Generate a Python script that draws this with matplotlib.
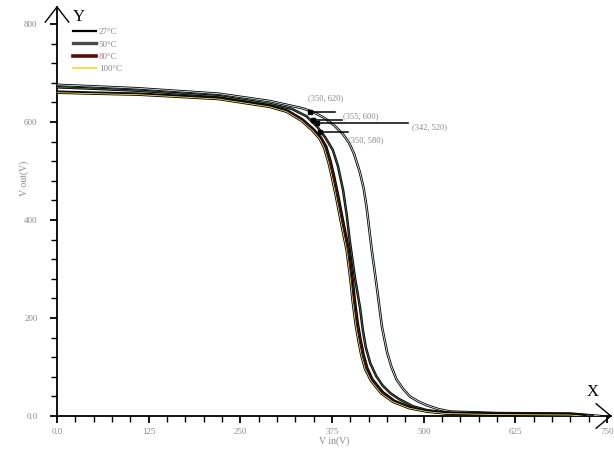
import numpy as np
import matplotlib
matplotlib.use("Agg")
import matplotlib.pyplot as plt
import matplotlib.patheffects as pe
from matplotlib.lines import Line2D

# transfer curves (Vin in mV, Vout in mV)
vin_27 = [0, 50, 110, 160, 220, 290, 335, 350, 365, 378, 390, 398, 405, 413, 418, 422, 429, 436,
          443, 450, 456, 463, 472, 481, 492, 504, 520, 536, 600, 700, 740]
vout_27 = [676, 673, 669, 664, 658, 643, 628, 620, 608, 593, 575, 558, 535, 497, 465, 427, 340, 263,
           182, 130, 100, 74, 55, 40, 30, 22, 14, 9, 6, 5, 0]

vin_50 = [0, 50, 110, 160, 220, 290, 320, 340, 355, 366, 376, 383, 390, 395, 399, 406, 413, 417,
          421, 427, 435, 444, 455, 467, 485, 504, 530, 600, 700, 730]
vout_50 = [671, 668, 664, 659, 653, 637, 627, 612, 590, 568, 543, 510, 461, 410, 359, 284, 222, 175,
           140, 108, 82, 62, 46, 34, 20, 12, 7, 5, 4, 0]

vin_80 = [0, 50, 110, 160, 220, 290, 315, 335, 350, 360, 367, 373, 378, 384, 389, 398, 403, 406,
          410, 414, 418, 423, 430, 444, 460, 481, 504, 530, 600, 700, 720]
vout_80 = [662, 660, 658, 654, 649, 633, 623, 605, 585, 568, 550, 520, 488, 445, 406, 339, 280, 237,
           190, 155, 125, 98, 75, 49, 31, 18, 10, 6, 4, 3, 0]

vin_100 = [0, 50, 110, 160, 220, 290, 313, 333, 348, 358, 364, 370, 375, 381, 386, 395, 400, 403,
           407, 411, 415, 420, 428, 442, 458, 480, 504, 530, 600, 700, 715]
vout_100 = [660, 658, 656, 652, 647, 631, 621, 603, 583, 566, 548, 518, 486, 443, 404, 337, 278, 235,
            188, 153, 123, 96, 72, 46, 29, 16, 9, 5, 3, 2, 0]

temps = ["27°C", "50°C", "80°C", "100°C"]

# marked points: position on the curve, end of leader, label position, label text
ann_x = [345, 349, 354, 358]
ann_y = [620, 604, 598, 580]
ann_end = [379, 388, 478, 397]
ann_tx = [342, 390, 484, 397]
ann_ty = [649, 612, 590, 563]
ann_text = ["(350, 620)", "(355, 600)", "(342, 520)", "(350, 580)"]

x_ticks = [0, 125, 250, 375, 500, 625, 750]
x_labels = ["0.0", "125", "250", "375", "500", "625", "750"]
y_ticks = [0, 200, 400, 600, 800]
y_labels = ["0.0", "200", "400", "600", "800"]

plt.rcParams["font.family"] = ["Liberation Serif", "DejaVu Serif"]
gray = "#8a8a8a"

fig = plt.figure(figsize=(6.14, 4.53), dpi=100)
ax = fig.add_axes([57 / 614, 37 / 453, 0.902, 0.903])
ax.set_xlim(0, 755)
ax.set_ylim(0, 835)

curves = [(vin_27, vout_27, "#d6eaee"), (vin_50, vout_50, "#3f6a48"),
          (vin_80, vout_80, "#6b1010"), (vin_100, vout_100, "#f2e35a")]
for (x, y, c) in curves:
    ax.plot(x, y, color=c, lw=0.6, zorder=3,
            path_effects=[pe.Stroke(linewidth=1.8, foreground="black"), pe.Normal()])

for i in range(len(ann_x)):
    ax.plot([ann_x[i], ann_end[i]], [ann_y[i], ann_y[i]], color="black", lw=1.1, zorder=4)
    ax.plot(ann_x[i], ann_y[i], "s", color="black", ms=3, zorder=5)
    ax.text(ann_tx[i], ann_ty[i], ann_text[i], fontsize=6, color=gray, va="center")

# axes with open arrow heads
for s in ["top", "right"]:
    ax.spines[s].set_visible(False)
ax.spines["left"].set_linewidth(1.3)
ax.spines["bottom"].set_linewidth(1.3)
ax.plot([-16, 0, 16], [804, 835, 804], color="black", lw=1.0, clip_on=False)
ax.plot([735, 755, 735], [25, 0, -25], color="black", lw=1.0, clip_on=False)
ax.text(22, 814, "Y", fontsize=12, va="center", ha="left")
ax.text(730, 48, "X", fontsize=12, va="center", ha="center")

ax.set_xticks(x_ticks)
ax.set_xticklabels(x_labels)
ax.set_yticks(y_ticks)
ax.set_yticklabels(y_labels)
ax.set_xticks(np.arange(0, 751, 25), minor=True)
ax.set_yticks(np.arange(0, 801, 40), minor=True)
ax.tick_params(which="both", direction="out", labelsize=6.5, labelcolor=gray)
ax.tick_params(which="major", length=5, width=1.3)
ax.tick_params(which="minor", length=4, width=1.0)
ax.tick_params(axis="y", pad=9)
ax.tick_params(axis="x", pad=4)

ax.set_xlabel("V in(V)", fontsize=7, color=gray, labelpad=0)
ax.set_ylabel("V out(V)", fontsize=7, color=gray, labelpad=2)
ax.yaxis.set_label_coords(-0.05, 0.58)

handles = [Line2D([], [], color="black", lw=1.6),
           Line2D([], [], color="#4a4a4a", lw=2.4),
           Line2D([], [], color="#5a0a0a", lw=2.6),
           Line2D([], [], color="#f0e050", lw=1.4)]
ax.legend(handles, temps, loc="upper left", bbox_to_anchor=(0.02, 0.96), frameon=False,
          fontsize=6.5, labelcolor=gray, handlelength=2.6, handletextpad=0.3,
          labelspacing=0.45, borderpad=0)

fig.savefig("out.png", dpi=100)
